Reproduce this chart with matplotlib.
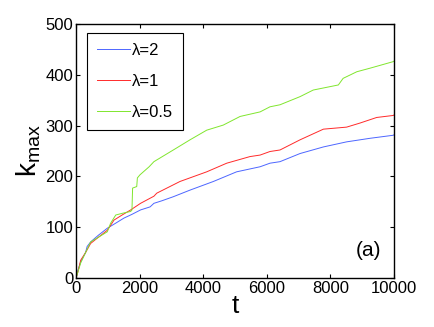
import matplotlib
matplotlib.use("Agg")
import matplotlib.pyplot as plt

plt.rcParams["font.family"] = ["Liberation Sans", "DejaVu Sans"]
plt.rcParams["mathtext.default"] = "regular"

# values
t_blue = [0, 60, 150, 300, 350, 460, 700, 985, 1250, 1510, 1750, 2030, 2330, 2450, 2700,
          3060, 3585, 4320, 5050, 5790, 6100, 6415, 7045, 7780, 8510, 9245, 9980, 10000]
k_blue = [0, 15, 32, 50, 62, 71, 84, 98, 108, 118, 125, 134, 140, 147, 152,
          160, 173, 190, 209, 219, 226, 229, 245, 258, 268, 275, 281, 282]

t_red = [0, 60, 147, 300, 460, 700, 985, 1195, 1450, 1720, 2030, 2450, 2540, 3270,
         4110, 4740, 5470, 5790, 6100, 6415, 7045, 7780, 8510, 8930, 9455, 9980, 10000]
k_red = [0, 12, 35, 50, 68, 80, 94, 114, 124, 134, 147, 161, 167, 190,
         209, 226, 239, 242, 249, 252, 272, 293, 297, 305, 316, 320, 321]

t_green = [0, 60, 150, 300, 460, 700, 985, 1090, 1250, 1500, 1720, 1760, 1780, 1910, 1930,
           2010, 2300, 2450, 3060, 3585, 4110, 4630, 5160, 5790, 6100, 6415, 7045, 7460,
           8250, 8400, 8830, 9245, 9980, 10000]
k_green = [0, 12, 30, 50, 71, 80, 91, 108, 124, 128, 131, 134, 177, 180, 197,
           203, 219, 229, 252, 272, 291, 301, 318, 327, 337, 341, 357, 370,
           380, 393, 406, 413, 426, 427]

fig = plt.figure(figsize=(4.35, 3.27), dpi=100)
ax = fig.add_axes([76 / 435, 1 - 278 / 327, 318 / 435, 254 / 327])

ax.plot(t_blue, k_blue, color="#4d66ff", lw=0.7, label="λ=2")
ax.plot(t_red, k_red, color="#ff2a2a", lw=0.7, label="λ=1")
ax.plot(t_green, k_green, color="#80e62e", lw=0.7, label="λ=0.5")

ax.set_xlim(0, 10000)
ax.set_ylim(0, 500)
ax.set_xticks(range(0, 10001, 2000))
ax.set_yticks(range(0, 501, 100))
ax.tick_params(direction="in", top=True, right=True, labelsize=12, length=3, width=0.8, pad=2)
for s in ax.spines.values():
    s.set_linewidth(1.0)

ax.set_xlabel("t", fontsize=19, labelpad=-1)
ax.set_ylabel("k$_{max}$", fontsize=20, labelpad=2)

leg = ax.legend(loc="upper left", bbox_to_anchor=(0.035, 0.965), fontsize=12,
                handlelength=2.0, handletextpad=0.1, labelspacing=0.95,
                borderpad=0.6, borderaxespad=0, fancybox=False, framealpha=1,
                edgecolor="black")
leg.get_frame().set_linewidth(0.8)

ax.text(0.96, 0.07, "(a)", transform=ax.transAxes, fontsize=15, ha="right", va="bottom")

fig.savefig("out.png", dpi=100)
